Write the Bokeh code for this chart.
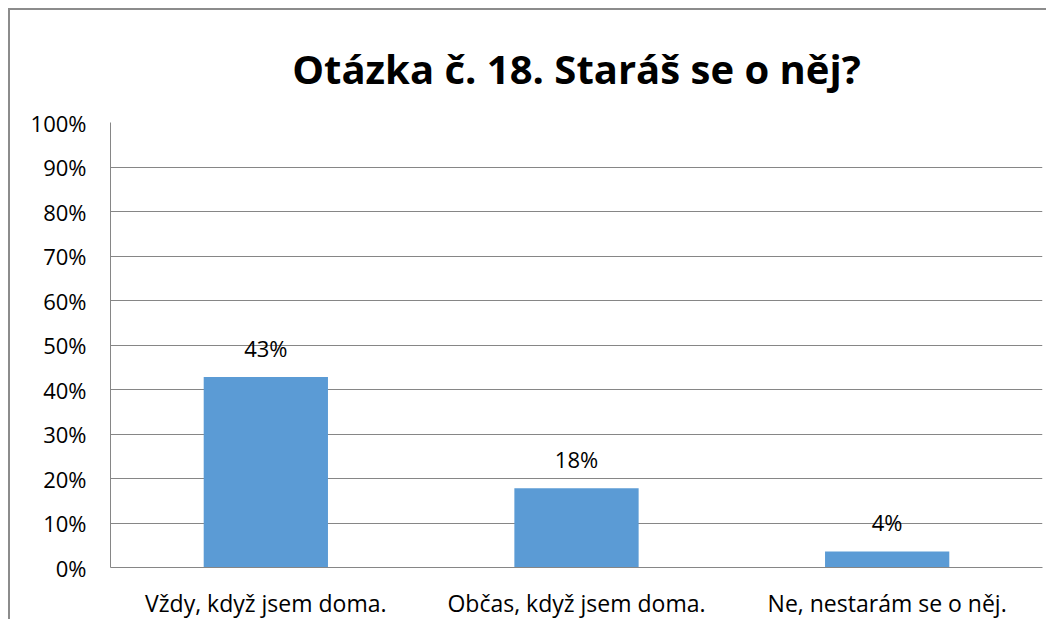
from bokeh.plotting import figure
from bokeh.models import ColumnDataSource, FixedTicker, NumeralTickFormatter, LabelSet, Range1d
from bokeh.core.properties import value
from bokeh.embed import file_html
from bokeh.resources import INLINE

title = "Otázka č. 18. Staráš se o něj?"
categories = ["Vždy, když jsem doma.", "Občas, když jsem doma.", "Ne, nestarám se o něj."]
values = [0.428, 0.178, 0.036]
labels = ["43%", "18%", "4%"]
y_ticks = [0.0, 0.1, 0.2, 0.3, 0.4, 0.5, 0.6, 0.7, 0.8, 0.9, 1.0]

FONT = "Open Sans"
GRAY = "#868686"

src = ColumnDataSource(dict(cat=categories, val=values, lab=labels))

p = figure(x_range=categories, y_range=Range1d(0, 1), width=1038, height=611,
           output_backend="svg", toolbar_location=None,
           min_border_left=100, min_border_right=6, min_border_top=112, min_border_bottom=52)

p.title.text = title
p.title.align = "center"
p.title.text_font = FONT
p.title.text_font_size = "40px"
p.title.text_font_style = "bold"
p.title.text_color = "black"
p.title.standoff = 54

p.vbar(x="cat", top="val", width=0.4, source=src, fill_color="#5B9BD5", line_color=None)

p.add_layout(LabelSet(x="cat", y="val", text="lab", source=src, text_align="center",
                      text_baseline="bottom", y_offset=14, text_font=value(FONT),
                      text_font_size=value("22px"), text_color="black"))

p.outline_line_color = None
p.xgrid.grid_line_color = None
p.ygrid.grid_line_color = GRAY
p.ygrid.ticker = FixedTicker(ticks=y_ticks)

p.yaxis.ticker = FixedTicker(ticks=y_ticks)
p.yaxis.formatter = NumeralTickFormatter(format="0%")
p.yaxis.axis_line_color = GRAY
p.yaxis.major_tick_line_color = None
p.yaxis.minor_tick_line_color = None
p.yaxis.major_label_standoff = 18
p.yaxis.major_label_text_font = FONT
p.yaxis.major_label_text_font_size = "22px"
p.yaxis.major_label_text_color = "black"

p.xaxis.axis_line_color = GRAY
p.xaxis.major_tick_line_color = None
p.xaxis.minor_tick_line_color = None
p.xaxis.major_label_standoff = 13
p.xaxis.major_label_text_font = FONT
p.xaxis.major_label_text_font_size = "23px"
p.xaxis.major_label_text_color = "black"

p.styles = {"border-left": "2px solid #8c8c8c", "border-top": "2px solid #8c8c8c",
            "margin-left": "8px", "margin-top": "8px"}

open("out.html", "w").write(file_html(p, INLINE))
